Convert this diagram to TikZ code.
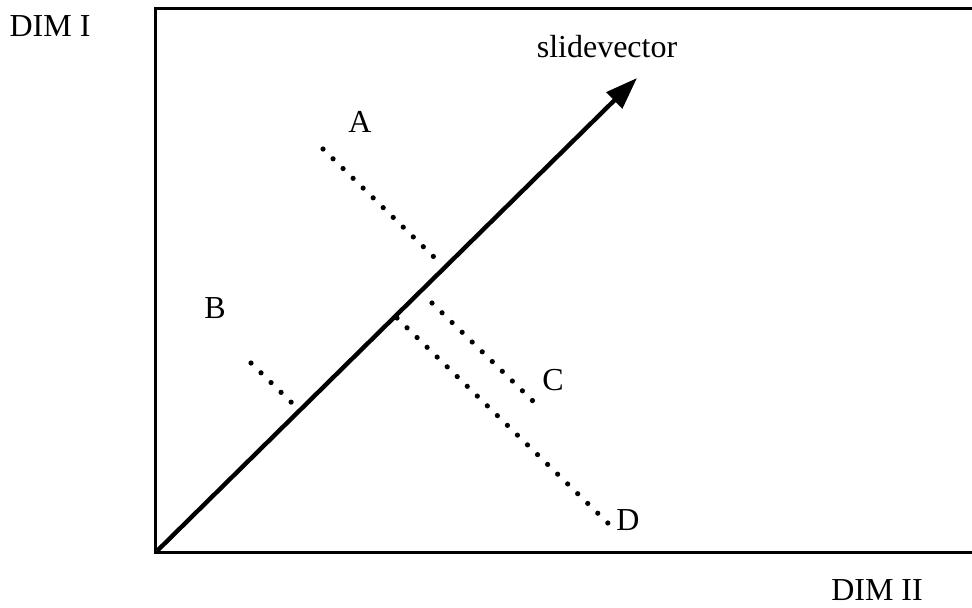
\documentclass[tikz,border=0pt]{standalone}
\usepackage{fontspec}
\setmainfont{Liberation Serif}
\usetikzlibrary{arrows.meta}

\begin{document}
\begin{tikzpicture}[x=0.5pt, y=-0.5pt, font=\fontsize{16}{19}\selectfont,
    dotline/.style={line width=2.6pt, line cap=round, dash pattern=on 0pt off 7pt}]
            \useasboundingbox (0,0) rectangle (972,607);
            \draw[line width=1.5pt] (972,8) -- (155,8) -- (155,552) -- (972,552);
            \coordinate (origin) at (157,551);
            \coordinate (tip) at (637,78);
            \draw[-{Triangle[length=16pt,width=11pt]}, line width=2.2pt] (origin) -- (tip);
            \draw[dotline] (323,149) -- (436,259);
            \draw[dotline] (251,363) -- (292,403);
            \draw[dotline] (432,303) -- (536,404);
            \draw[dotline] (397,318) -- (613,528);
            \node (diml) at (50,26) {DIM I};
            \node (dimll) at (877,590) {DIM II};
            \node (slide) at (607,47) {slidevector};
            \node (labA) at (360,122) {A};
            \node (labB) at (215,308) {B};
            \node (labC) at (553,380) {C};
            \node (labD) at (628,520) {D};
          \end{tikzpicture}
\end{document}
